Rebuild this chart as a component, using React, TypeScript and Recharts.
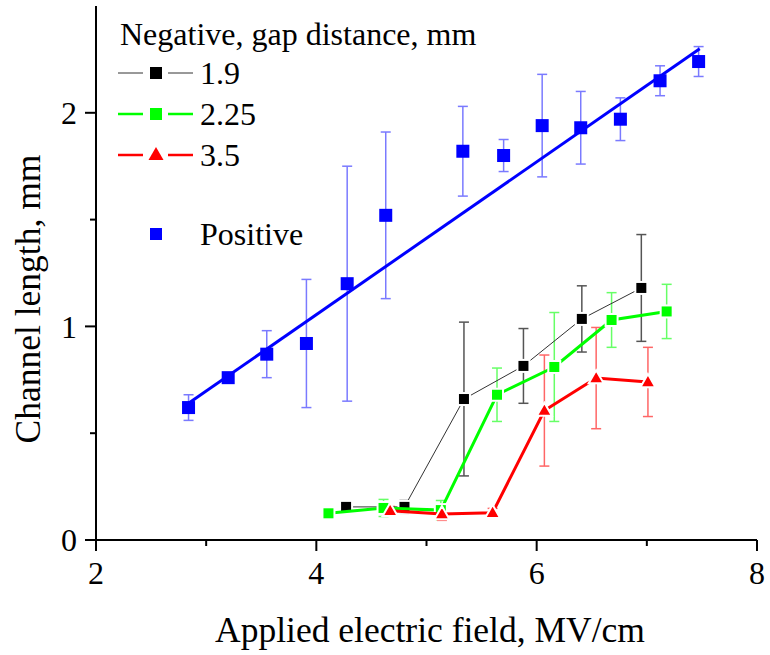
import React from 'react';
import { ComposedChart, Scatter, XAxis, YAxis, ErrorBar } from 'recharts';

// ---- data ----
const posX = [2.84, 3.2, 3.55, 3.91, 4.28, 4.63, 5.33, 5.7, 6.05, 6.4, 6.76, 7.12, 7.47];
const posY = [0.62, 0.76, 0.87, 0.92, 1.2, 1.52, 1.82, 1.8, 1.94, 1.93, 1.97, 2.15, 2.24];
const posErr = [0.06, 0, 0.11, 0.3, 0.55, 0.39, 0.21, 0.075, 0.24, 0.17, 0.1, 0.07, 0.07];

const fitX = [2.84, 7.48];
const fitY = [0.64, 2.3];

const neg19X = [4.27, 4.8, 5.34, 5.88, 6.41, 6.95];
const neg19Y = [0.155, 0.155, 0.66, 0.815, 1.035, 1.18];
const neg19Err = [0.01, 0.03, 0.36, 0.175, 0.155, 0.25];

const neg225X = [4.11, 4.61, 5.13, 5.64, 6.16, 6.68, 7.18];
const neg225Y = [0.125, 0.15, 0.14, 0.68, 0.81, 1.03, 1.07];
const neg225Err = [0, 0.04, 0.045, 0.125, 0.255, 0.128, 0.127];

const neg35X = [4.67, 5.14, 5.6, 6.07, 6.54, 7.01];
const neg35Y = [0.137, 0.122, 0.128, 0.606, 0.758, 0.74];
const neg35Err = [0.02, 0.03, 0.02, 0.26, 0.237, 0.162];

const xTicks = [2, 3, 4, 5, 6, 7, 8];
const xMajor = [2, 4, 6, 8];
const yTicks = [0, 0.5, 1, 1.5, 2];
const yMajor = [0, 1, 2];

const legendTitle = 'Negative, gap distance, mm';
const legendLabels = ['1.9', '2.25', '3.5'];
const positiveLabel = 'Positive';
const xTitle = 'Applied electric field, MV/cm';
const yTitle = 'Channel length, mm';

const FONT = '"Liberation Serif", "Times New Roman", serif';

const toPts = (xs: number[], ys: number[], es?: number[]) =>
  xs.map((x, i) => ({ x, y: ys[i], err: es ? es[i] : 0 }));

const posData = toPts(posX, posY, posErr);
const fitData = toPts(fitX, fitY);
const d19 = toPts(neg19X, neg19Y, neg19Err);
const d225 = toPts(neg225X, neg225Y, neg225Err);
const d35 = toPts(neg35X, neg35Y, neg35Err);

const squareShape = (size: number, fill: string, halo: boolean) => (p: any) => {
  const { cx, cy } = p;
  if (cx == null || cy == null) return <g />;
  return (
    <rect
      x={cx - size / 2}
      y={cy - size / 2}
      width={size}
      height={size}
      fill={fill}
      stroke={halo ? '#fff' : 'none'}
      strokeWidth={halo ? 2 : 0}
    />
  );
};

const triShape = (w: number, fill: string) => (p: any) => {
  const { cx, cy } = p;
  if (cx == null || cy == null) return <g />;
  const h = w * 0.87;
  const pts = `${cx},${cy - h * 0.6} ${cx - w / 2},${cy + h * 0.4} ${cx + w / 2},${cy + h * 0.4}`;
  return <polygon points={pts} fill={fill} stroke="#fff" strokeWidth={2} />;
};

const emptyShape = () => <g />;

const XTick = (props: any) => {
  const { x, y, payload } = props;
  const v = payload.value;
  const major = xMajor.includes(v);
  return (
    <g>
      <line x1={x} x2={x} y1={y} y2={y + (major ? 11 : 6)} stroke="#000" strokeWidth={2} />
      {major && (
        <text x={x} y={y + 44} textAnchor="middle" fontSize={32} fontFamily={FONT} fill="#000">
          {v}
        </text>
      )}
    </g>
  );
};

const YTick = (props: any) => {
  const { x, y, payload } = props;
  const v = payload.value;
  const major = yMajor.includes(v);
  return (
    <g>
      <line x1={x - (major ? 11 : 6)} x2={x} y1={y} y2={y} stroke="#000" strokeWidth={2} />
      {major && (
        <text x={x - 19} y={y} dy="0.35em" textAnchor="end" fontSize={32} fontFamily={FONT} fill="#000">
          {v}
        </text>
      )}
    </g>
  );
};

const legendRows = [
  { y: 73, color: '#000', lw: 1, lineColor: '#333', marker: 'sq' },
  { y: 114, color: '#00ff00', lw: 2.5, lineColor: '#00ff00', marker: 'sq' },
  { y: 155, color: '#ff0000', lw: 2.5, lineColor: '#ff0000', marker: 'tri' },
];

export default function App() {
  return (
    <div style={{ position: 'absolute', left: 0, top: 0, width: 770, height: 655, background: '#fff' }}>
      <ComposedChart
        width={770}
        height={655}
        margin={{ top: 6, right: 13, left: 0, bottom: 0 }}
      >
        <XAxis
          dataKey="x"
          type="number"
          domain={[2, 8]}
          ticks={xTicks}
          interval={0}
          tickSize={0}
          tickMargin={0}
          tickLine={false}
          tick={<XTick />}
          axisLine={{ stroke: '#000', strokeWidth: 2 }}
          height={115}
          allowDataOverflow
        />
        <YAxis
          dataKey="y"
          type="number"
          domain={[0, 2.5]}
          ticks={yTicks}
          interval={0}
          tickSize={0}
          tickMargin={0}
          tickLine={false}
          tick={<YTick />}
          axisLine={{ stroke: '#000', strokeWidth: 2 }}
          width={96}
          allowDataOverflow
        />
        <Scatter
          data={posData}
          isAnimationActive={false}
          shape={squareShape(13, '#0000ff', false)}
        >
          <ErrorBar dataKey="err" direction="y" width={5} stroke="#7a7aff" strokeWidth={1.5} />
        </Scatter>
        <Scatter
          data={fitData}
          isAnimationActive={false}
          line={{ stroke: '#0000ff', strokeWidth: 3 }}
          shape={emptyShape}
        />
        <Scatter
          data={d19}
          isAnimationActive={false}
          line={{ stroke: '#333', strokeWidth: 1 }}
          shape={squareShape(12, '#000', true)}
        >
          <ErrorBar dataKey="err" direction="y" width={5} stroke="#555" strokeWidth={1.5} />
        </Scatter>
        <Scatter
          data={d225}
          isAnimationActive={false}
          line={{ stroke: '#00ff00', strokeWidth: 3 }}
          shape={squareShape(12, '#00ff00', true)}
        >
          <ErrorBar dataKey="err" direction="y" width={5} stroke="#66ff66" strokeWidth={1.5} />
        </Scatter>
        <Scatter
          data={d35}
          isAnimationActive={false}
          line={{ stroke: '#ff0000', strokeWidth: 3 }}
          shape={triShape(15, '#ff0000')}
        >
          <ErrorBar dataKey="err" direction="y" width={5} stroke="#ff6666" strokeWidth={1.5} />
        </Scatter>
      </ComposedChart>
      <svg
        width={770}
        height={655}
        style={{ position: 'absolute', left: 0, top: 0, pointerEvents: 'none' }}
      >
        <text x={430} y={642} textAnchor="middle" fontSize={35.5} fontFamily={FONT} fill="#000">
          {xTitle}
        </text>
        <text
          transform="translate(40, 299) rotate(-90)"
          textAnchor="middle"
          fontSize={35.5}
          fontFamily={FONT}
          fill="#000"
        >
          {yTitle}
        </text>
        <text x={120} y={45} fontSize={32} fontFamily={FONT} fill="#000">
          {legendTitle}
        </text>
        {legendRows.map((r, i) => (
          <g key={i}>
            <line x1={118} x2={143} y1={r.y} y2={r.y} stroke={r.lineColor} strokeWidth={r.lw} />
            <line x1={168} x2={193} y1={r.y} y2={r.y} stroke={r.lineColor} strokeWidth={r.lw} />
            {r.marker === 'sq' ? (
              <rect x={150} y={r.y - 6} width={12} height={12} fill={r.color} />
            ) : (
              <polygon points={`156,${r.y - 8} ${148.5},${r.y + 5} ${163.5},${r.y + 5}`} fill={r.color} />
            )}
            <text x={200} y={r.y + 11} fontSize={32} fontFamily={FONT} fill="#000">
              {legendLabels[i]}
            </text>
          </g>
        ))}
        <rect x={150} y={228} width={12} height={12} fill="#0000ff" />
        <text x={200} y={245} fontSize={32} fontFamily={FONT} fill="#000">
          {positiveLabel}
        </text>
      </svg>
    </div>
  );
}
